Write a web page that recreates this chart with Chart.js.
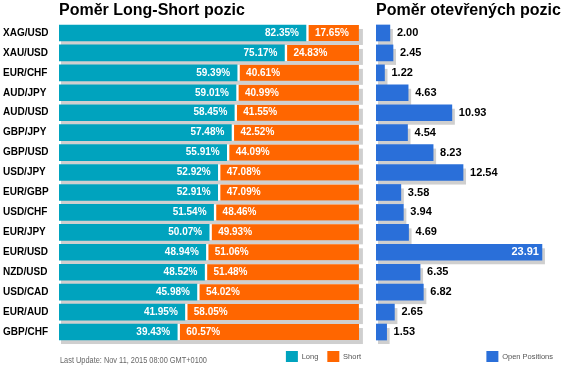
<!DOCTYPE html>
<html><head><meta charset="utf-8">
<script src="https://cdn.jsdelivr.net/npm/chart.js@4.4.0/dist/chart.umd.min.js"></script>
<style>
html,body{margin:0;padding:0;background:#fff;}
body{width:574px;height:376px;position:relative;overflow:hidden;font-family:"Liberation Sans",Arial,sans-serif;}
#c1{position:absolute;left:0;top:0;}
#c2{position:absolute;left:370px;top:0;}
.title{position:absolute;top:1px;font-weight:bold;font-size:16px;line-height:18px;color:#000;white-space:nowrap;}
.foot{position:absolute;left:60px;top:355px;font-size:9px;line-height:11px;color:#666;white-space:nowrap;transform:scaleX(0.82);transform-origin:0 0;}
</style></head>
<body>
<canvas id="c1" width="370" height="376"></canvas>
<canvas id="c2" width="204" height="376"></canvas>
<div class="title" style="left:59px">Poměr Long-Short pozic</div>
<div class="title" style="left:376px">Poměr otevřených pozic</div>
<div class="foot">Last Update: Nov 11, 2015 08:00 GMT+0100</div>
<script>
const pairs = ['XAG/USD','XAU/USD','EUR/CHF','AUD/JPY','AUD/USD','GBP/JPY','GBP/USD','USD/JPY','EUR/GBP','USD/CHF','EUR/JPY','EUR/USD','NZD/USD','USD/CAD','EUR/AUD','GBP/CHF'];
const longPct = [82.35,75.17,59.39,59.01,58.45,57.48,55.91,52.92,52.91,51.54,50.07,48.94,48.52,45.98,41.95,39.43];
const shortPct = [17.65,24.83,40.61,40.99,41.55,42.52,44.09,47.08,47.09,48.46,49.93,51.06,51.48,54.02,58.05,60.57];
const openPos = [2.00,2.45,1.22,4.63,10.93,4.54,8.23,12.54,3.58,3.94,4.69,23.91,6.35,6.82,2.65,1.53];

const FONT = '"Liberation Sans", Arial, sans-serif';
const TEAL = '#00A3BE', ORANGE = '#FF6600', BLUE = '#2A6FD9', SHADOW = '#CFCFCF';

const shadowPlugin = {
  id: 'shadow',
  beforeDatasetsDraw(chart, args, opts) {
    const ctx = chart.ctx;
    const metas = chart.getSortedVisibleDatasetMetas();
    const n = chart.data.labels.length;
    ctx.save();
    ctx.fillStyle = opts.color;
    for (let i = 0; i < n; i++) {
      let x0 = Infinity, x1 = -Infinity, y0 = 0, y1 = 0;
      metas.forEach(m => {
        const p = m.data[i].getProps(['x','y','base','height'], true);
        x0 = Math.min(x0, p.base, p.x); x1 = Math.max(x1, p.base, p.x);
        y0 = p.y - p.height / 2; y1 = p.y + p.height / 2;
      });
      ctx.fillRect(x0 + opts.dx0, y0 + opts.dy, (x1 + opts.dx1) - (x0 + opts.dx0), y1 - y0);
    }
    ctx.restore();
  }
};

const pctLabels = {
  id: 'pctLabels',
  afterDatasetsDraw(chart) {
    const ctx = chart.ctx;
    ctx.save();
    ctx.font = 'bold 10px ' + FONT;
    ctx.fillStyle = '#fff';
    ctx.textBaseline = 'middle';
    chart.getDatasetMeta(0).data.forEach((el, i) => {
      ctx.textAlign = 'right';
      ctx.fillText(longPct[i].toFixed(2) + '%', el.x - 7, el.y);
    });
    chart.getDatasetMeta(1).data.forEach((el, i) => {
      ctx.textAlign = 'left';
      ctx.fillText(shortPct[i].toFixed(2) + '%', el.base + 9, el.y);
    });
    ctx.restore();
  }
};

const posLabels = {
  id: 'posLabels',
  afterDatasetsDraw(chart) {
    const ctx = chart.ctx;
    ctx.save();
    ctx.font = 'bold 11px ' + FONT;
    ctx.textBaseline = 'middle';
    chart.getDatasetMeta(0).data.forEach((el, i) => {
      const t = openPos[i].toFixed(2);
      const w = ctx.measureText(t).width;
      if (el.x + 7 + w > chart.chartArea.right) {
        ctx.fillStyle = '#fff'; ctx.textAlign = 'right';
        ctx.fillText(t, el.x - 3, el.y);
      } else {
        ctx.fillStyle = '#000'; ctx.textAlign = 'left';
        ctx.fillText(t, el.x + 7, el.y);
      }
    });
    ctx.restore();
  }
};

function legendLabels(chart) {
  return Chart.defaults.plugins.legend.labels.generateLabels(chart).map(l => Object.assign(l, {lineWidth: 0, strokeStyle: l.fillStyle}));
}
const legendOpts = {
  position: 'bottom', align: 'end',
  labels: {boxWidth: 12, boxHeight: 11, padding: 9, color: '#555', font: {size: 7.5, family: FONT}, generateLabels: legendLabels}
};

new Chart(document.getElementById('c1'), {
  type: 'bar',
  data: {
    labels: pairs,
    datasets: [
      {label: 'Long', data: longPct, backgroundColor: TEAL, borderWidth: 0, barThickness: 16},
      {label: 'Short', data: shortPct, backgroundColor: ORANGE, borderColor: '#fff',
       borderWidth: {left: 3, right: 0, top: 0, bottom: 0}, borderSkipped: false, barThickness: 16}
    ]
  },
  options: {
    indexAxis: 'y', responsive: false, animation: false,
    layout: {padding: {left: 3, right: 0, top: 23, bottom: 4}},
    scales: {
      x: {stacked: true, min: 0, max: 103.7, display: false},
      y: {stacked: true, grid: {display: false}, border: {display: false},
          ticks: {crossAlign: 'far', color: '#000', padding: 0, font: {size: 10, weight: 'bold', family: FONT}},
          afterFit(s) { s.width = 56; }}
    },
    plugins: {
      legend: legendOpts,
      tooltip: {enabled: false},
      shadow: {color: SHADOW, dx0: 2, dx1: 4, dy: 4}
    }
  },
  plugins: [shadowPlugin, pctLabels]
});

new Chart(document.getElementById('c2'), {
  type: 'bar',
  data: {
    labels: pairs,
    datasets: [
      {label: 'Open Positions', data: openPos, backgroundColor: BLUE, borderWidth: 0, barThickness: 16}
    ]
  },
  options: {
    indexAxis: 'y', responsive: false, animation: false,
    layout: {padding: {left: 6, right: 12, top: 23, bottom: 4}},
    scales: {
      x: {min: 0, max: 26.8, display: false},
      y: {display: false}
    },
    plugins: {
      legend: legendOpts,
      tooltip: {enabled: false},
      shadow: {color: SHADOW, dx0: 2, dx1: 3, dy: 4}
    }
  },
  plugins: [shadowPlugin, posLabels]
});
</script>
</body></html>
